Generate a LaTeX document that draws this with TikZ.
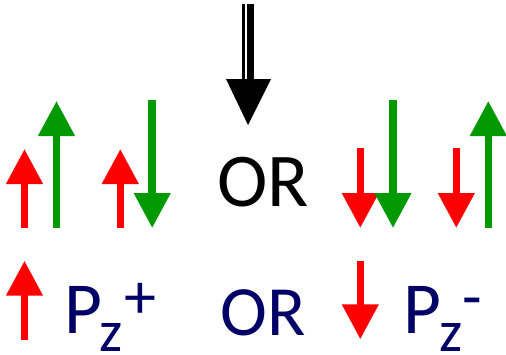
\documentclass[tikz,border=0pt]{standalone}
\usepackage{fontspec}
\setmainfont{Carlito}
\usetikzlibrary{arrows.meta}
\definecolor{spinred}{RGB}{255,0,0}
\definecolor{spingreen}{RGB}{0,153,0}
\definecolor{navy}{RGB}{0,0,102}
\tikzset{%
    spin/.style={line width=5.6pt,-{Triangle[length=26.25pt,width=26.25pt]}},
    txt/.style={inner sep=0pt,font=\fontsize{#1}{#1}\selectfont}
}

\begin{document}
\begin{tikzpicture}[x=0.75pt,y=-0.75pt]
            \useasboundingbox (0,0) rectangle (506,354);
            % big down arrow
            \fill (242,4) rectangle (245,79);
            \fill (247,4) rectangle (254,79);
            \fill (226,79) -- (271,79) -- (248,125) -- cycle;

            % spin pairs
            \coordinate (a1) at (24.5,228);  \coordinate (b1) at (24.5,149);
            \coordinate (a2) at (56.5,228);  \coordinate (b2) at (56.5,101);
            \coordinate (a3) at (120.3,228); \coordinate (b3) at (120.3,149);
            \coordinate (a4) at (152.2,100); \coordinate (b4) at (152.2,228);
            \coordinate (a5) at (360.3,148); \coordinate (b5) at (360.3,228);
            \coordinate (a6) at (393,100);   \coordinate (b6) at (393,228);
            \coordinate (a7) at (456.3,148); \coordinate (b7) at (456.3,228);
            \coordinate (a8) at (488.3,228); \coordinate (b8) at (488.3,101);
            \draw[spin,spinred] (a1) -- (b1);
            \draw[spin,spingreen] (a2) -- (b2);
            \draw[spin,spinred] (a3) -- (b3);
            \draw[spin,spingreen] (a4) -- (b4);
            \draw[spin,spinred] (a5) -- (b5);
            \draw[spin,spingreen] (a6) -- (b6);
            \draw[spin,spinred] (a7) -- (b7);
            \draw[spin,spingreen] (a8) -- (b8);
            \node[txt=57] (or1) at (263,182.5) {OR};

            % resulting spin
            \coordinate (c1) at (24.5,340);  \coordinate (d1) at (24.5,260.7);
            \coordinate (c2) at (360.3,260.7); \coordinate (d2) at (360.3,339.3);
            \draw[spin,spinred] (c1) -- (d1);
            \draw[spin,spinred] (c2) -- (d2);
            \node[txt=53,navy] (or2) at (263,312.5) {OR};
            \node[txt=55,navy,anchor=base west] (pp) at (64,333) {P};
            \node[txt=44,navy,anchor=base west] (zp) at (99,351) {z};
            \node[txt=48,navy,anchor=base west] (sp) at (124,318) {+};
            \node[txt=55,navy,anchor=base west] (pm) at (403,333) {P};
            \node[txt=44,navy,anchor=base west] (zm) at (439,351) {z};
            \node[txt=48,navy,anchor=base west] (sm) at (462,318) {-};
\end{tikzpicture}
\end{document}
